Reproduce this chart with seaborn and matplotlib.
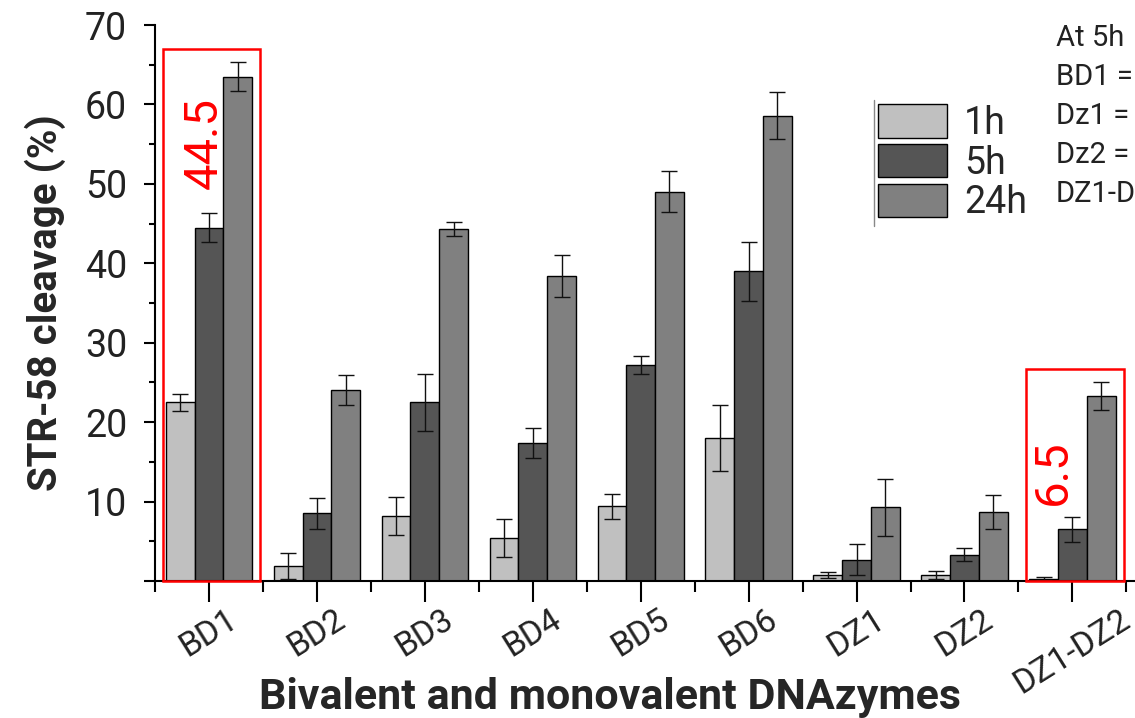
import matplotlib
matplotlib.use("Agg")
import matplotlib.pyplot as plt
import seaborn as sns
import pandas as pd
from matplotlib.patches import Rectangle, Patch
from matplotlib.lines import Line2D

categories = ["BD1", "BD2", "BD3", "BD4", "BD5", "BD6", "DZ1", "DZ2", "DZ1-DZ2"]
times = ["1h", "5h", "24h"]
vals_1h = [22.5, 1.9, 8.2, 5.4, 9.4, 18.0, 0.75, 0.8, 0.3]
vals_5h = [44.5, 8.5, 22.5, 17.4, 27.2, 39.0, 2.7, 3.3, 6.5]
vals_24h = [63.5, 24.0, 44.3, 38.4, 49.0, 58.6, 9.3, 8.7, 23.3]
err_1h = [1.1, 1.6, 2.4, 2.4, 1.6, 4.2, 0.4, 0.5, 0.2]
err_5h = [1.8, 1.9, 3.6, 1.9, 1.1, 3.7, 1.9, 0.8, 1.6]
err_24h = [1.8, 1.9, 0.9, 2.7, 2.6, 3.0, 3.6, 2.1, 1.8]
colors = ["#c0c0c0", "#555555", "#808080"]
yticks = [0, 10, 20, 30, 40, 50, 60, 70]
ytick_labels = ["", "10", "20", "30", "40", "50", "60", "70"]
note_lines = ["At 5h", "BD1 =", "Dz1 =", "Dz2 =", "DZ1-D"]
highlights = [("BD1", "44.5", 67.0), ("DZ1-DZ2", "6.5", 26.7)]

sns.set_style("ticks")
plt.rcParams["font.family"] = ["Roboto", "DejaVu Sans"]

df = pd.DataFrame({
    "cat": categories * 3,
    "time": [t for t in times for _ in categories],
    "val": vals_1h + vals_5h + vals_24h,
})

fig = plt.figure(figsize=(11.35, 7.18), dpi=100)
ax = fig.add_axes([155 / 1135, 1 - 581 / 718, 1 - 155 / 1135, (581 - 25) / 718])

sns.barplot(data=df, x="cat", y="val", hue="time", order=categories, hue_order=times,
            palette=colors, edgecolor="black", linewidth=1.0, width=0.8, gap=0,
            errorbar=None, legend=False, ax=ax)

for cont, errs in zip(ax.containers, [err_1h, err_5h, err_24h]):
    xs = [p.get_x() + p.get_width() / 2 for p in cont]
    ys = [p.get_height() for p in cont]
    ax.errorbar(xs, ys, yerr=errs, fmt="none", ecolor="#111111", elinewidth=1.0,
                capsize=6, capthick=1.0, zorder=5)

ax.set_xlim(-0.5, 8.58)
ax.set_ylim(0, 70)
ax.set_yticks(yticks)
ax.set_yticklabels(ytick_labels)
ax.set_yticks([5, 15, 25, 35, 45, 55, 65], minor=True)
ax.set_xticks([i + 0.5 for i in range(-1, 9)], minor=True)
ax.tick_params(axis="y", which="major", length=8, width=1.5, labelsize=27, direction="out", pad=12, color="black")
ax.tick_params(axis="y", which="minor", length=4, width=1.5, direction="out", color="black")
ax.tick_params(axis="x", which="major", length=15, width=1.5, labelsize=24, direction="out", pad=1, color="black")
ax.tick_params(axis="x", which="minor", length=8, width=1.5, direction="out", color="black")
for lab in ax.get_xticklabels():
    lab.set_rotation(32)
    lab.set_ha("center")
for lab in ax.get_xticklabels() + ax.get_yticklabels():
    lab.set_color("#222222")

for s in ["top", "right"]:
    ax.spines[s].set_visible(False)
for s in ["left", "bottom"]:
    ax.spines[s].set_linewidth(1.5)
    ax.spines[s].set_color("black")

ax.set_ylabel("STR-58 cleavage (%)", fontsize=29, fontweight="bold")
ax.yaxis.set_label_coords((45 - 155) / 980, 0.5)
ax.yaxis.label.set_va("center")
ax.set_xlabel("Bivalent and monovalent DNAzymes", fontsize=31, fontweight="bold")
ax.xaxis.set_label_coords((610 - 155) / 980, (581 - 697) / 556)
ax.xaxis.label.set_va("center")

# red highlight boxes with values
for cat, txt, top in highlights:
    i = categories.index(cat)
    ax.add_patch(Rectangle((i - 0.43, 0), 0.905, top, fill=False, edgecolor="red",
                           linewidth=1.8, zorder=6, clip_on=False))
    ax.text(i - 0.05 if cat == "BD1" else i - 0.185, 55.2 if cat == "BD1" else 13.7, txt,
            rotation=90, color="red", fontsize=34, ha="center", va="center", zorder=7)

handles = [Patch(facecolor=c, edgecolor="black", linewidth=1.0) for c in colors]
ax.legend(handles=handles, labels=times, loc="upper left",
          bbox_to_anchor=(878 / 1135, 1 - 104 / 718), bbox_transform=fig.transFigure,
          frameon=False, fontsize=27, handlelength=1.85, handleheight=1.0,
          labelspacing=0.06, handletextpad=0.45, borderpad=0, borderaxespad=0)
fig.add_artist(Line2D([874 / 1135, 874 / 1135], [1 - 100 / 718, 1 - 226 / 718],
                      transform=fig.transFigure, color="#888888", linewidth=1.0))

fig.text(1056 / 1135, 1 - 24 / 718, "\n".join(note_lines), fontsize=21, va="top", ha="left",
         linespacing=1.5, color="#222222")

fig.savefig("out.png", dpi=100)
